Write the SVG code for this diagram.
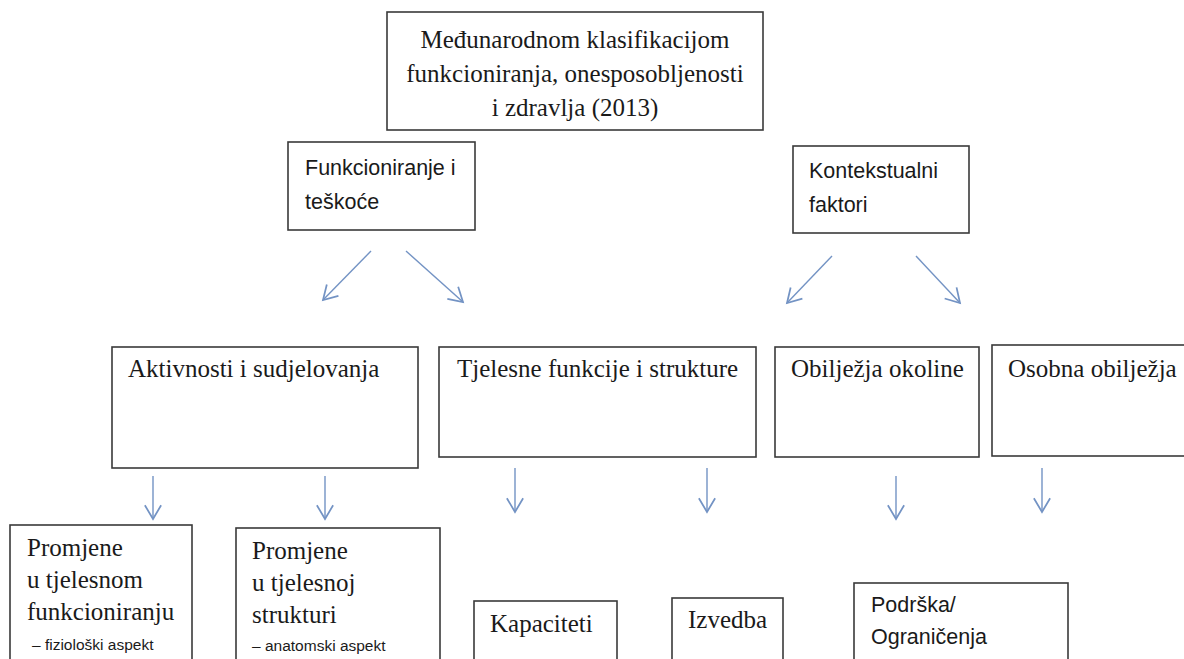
<svg xmlns="http://www.w3.org/2000/svg" width="1184" height="659" viewBox="0 0 1184 659">
<style>
.box{fill:#fff;stroke:#3a3a3a;stroke-width:1.6}
.serif{font-family:"Liberation Serif","Times New Roman",serif;font-size:25px;fill:#1a1a1a}
.sans{font-family:"Liberation Sans",Arial,sans-serif;font-size:21.5px;fill:#1a1a1a}
.small{font-family:"Liberation Sans",Arial,sans-serif;font-size:15.5px;fill:#1a1a1a}
.arr{stroke:#7393c4;stroke-width:1.4;fill:none;marker-end:url(#ah)}
</style>
<defs>
<marker id="ah" markerUnits="userSpaceOnUse" markerWidth="20" markerHeight="20" refX="0" refY="0" viewBox="-12 -8 14 16" orient="auto" overflow="visible">
<path d="M -11 -6.5 L 0 0 L -11 6.5" fill="none" stroke="#7393c4" stroke-width="1.4"/>
</marker>
</defs>
<rect width="1184" height="659" fill="#fff"/>
<g id="connectors">
<line class="arr" x1="371" y1="251" x2="323" y2="300"/>
<line class="arr" x1="406" y1="251" x2="463" y2="302"/>
<line class="arr" x1="832" y1="256" x2="787" y2="303"/>
<line class="arr" x1="916" y1="256" x2="960" y2="303"/>
<line class="arr" x1="153" y1="476" x2="153" y2="519"/>
<line class="arr" x1="325" y1="476" x2="325" y2="519"/>
<line class="arr" x1="515" y1="468" x2="515" y2="512"/>
<line class="arr" x1="707" y1="468" x2="707" y2="512"/>
<line class="arr" x1="896" y1="476" x2="896" y2="519"/>
<line class="arr" x1="1042" y1="468" x2="1042" y2="512"/>
</g>
<g id="n-icf">
<rect class="box" x="387" y="12" width="376" height="118"/>
<text class="serif" x="575" y="48" text-anchor="middle" font-size="24">Međunarodnom klasifikacijom</text>
<text class="serif" x="575" y="82" text-anchor="middle" font-size="24">funkcioniranja, onesposobljenosti</text>
<text class="serif" x="575" y="116" text-anchor="middle" font-size="24">i zdravlja (2013)</text>
</g>
<g id="n-funkc">
<rect class="box" x="288" y="142" width="187" height="88"/>
<text class="sans" x="305" y="175">Funkcioniranje i</text>
<text class="sans" x="305" y="209">teškoće</text>
</g>
<g id="n-kontekst">
<rect class="box" x="793" y="146" width="176" height="87"/>
<text class="sans" x="809" y="178">Kontekstualni</text>
<text class="sans" x="809" y="212">faktori</text>
</g>
<g id="n-aktiv">
<rect class="box" x="112" y="347" width="306" height="121"/>
<text class="serif" x="128" y="377">Aktivnosti i sudjelovanja</text>
</g>
<g id="n-tjel">
<rect class="box" x="439" y="347" width="317" height="110"/>
<text class="serif" x="457" y="377">Tjelesne funkcije i strukture</text>
</g>
<g id="n-okolina">
<rect class="box" x="775" y="347" width="204" height="110"/>
<text class="serif" x="791" y="377">Obilježja okoline</text>
</g>
<g id="n-osobna">
<rect class="box" x="992" y="345" width="200" height="111"/>
<text class="serif" x="1008" y="377">Osobna obilježja</text>
</g>
<g id="n-promj1">
<rect class="box" x="10" y="525" width="182" height="140"/>
<text class="serif" x="27" y="556">Promjene</text>
<text class="serif" x="27" y="588">u tjelesnom</text>
<text class="serif" x="27" y="620">funkcioniranju</text>
<text class="small" x="32" y="650">– fiziološki aspekt</text>
</g>
<g id="n-promj2">
<rect class="box" x="236" y="528" width="204" height="140"/>
<text class="serif" x="252" y="559">Promjene</text>
<text class="serif" x="252" y="591">u tjelesnoj</text>
<text class="serif" x="252" y="623">strukturi</text>
<text class="small" x="252" y="651">– anatomski aspekt</text>
</g>
<g id="n-kapac">
<rect class="box" x="474" y="601" width="143" height="70"/>
<text class="serif" x="490" y="632">Kapaciteti</text>
</g>
<g id="n-izvedba">
<rect class="box" x="672" y="598" width="111" height="70"/>
<text class="serif" x="688" y="628">Izvedba</text>
</g>
<g id="n-podrska">
<rect class="box" x="854" y="583" width="214" height="90"/>
<text class="sans" x="871" y="612">Podrška/</text>
<text class="sans" x="871" y="644">Ograničenja</text>
</g>
</svg>
